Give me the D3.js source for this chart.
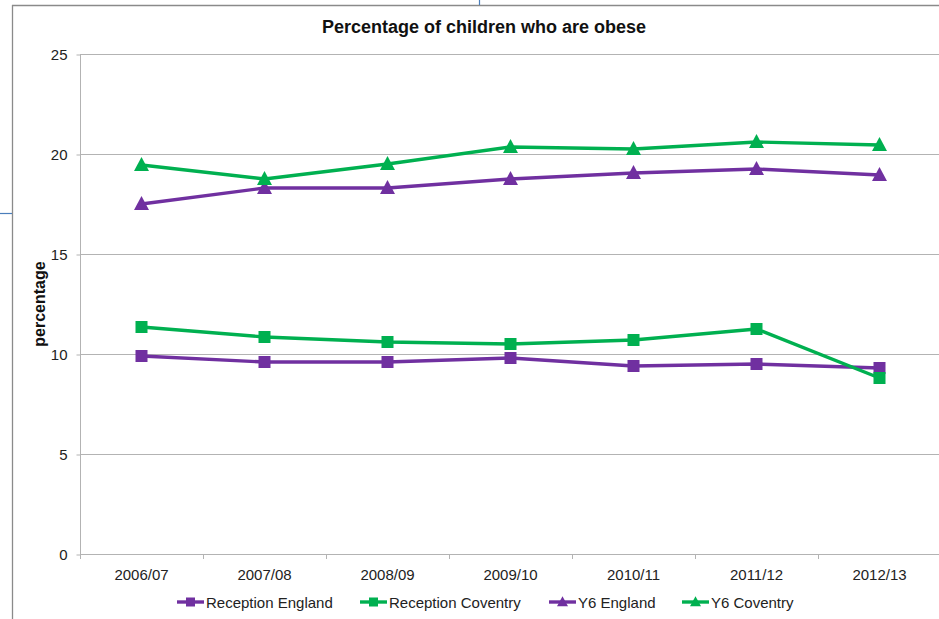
<!DOCTYPE html>
<html><head><meta charset="utf-8">
<script src="https://cdn.jsdelivr.net/npm/d3@7"></script>
<style>
body{margin:0;background:#fff;}
svg{display:block;font-family:"Liberation Sans",Arial,sans-serif;}
</style></head>
<body><svg id="chart" width="939" height="619"></svg>
<script>
const categories = ["2006/07","2007/08","2008/09","2009/10","2010/11","2011/12","2012/13"];
const receptionEngland = [9.9, 9.6, 9.6, 9.8, 9.4, 9.5, 9.3];
const receptionCoventry = [11.35, 10.85, 10.6, 10.5, 10.7, 11.25, 8.8];
const y6England = [17.5, 18.3, 18.3, 18.75, 19.05, 19.25, 18.95];
const y6Coventry = [19.45, 18.75, 19.5, 20.35, 20.25, 20.6, 20.45];
const yTicks = [0, 5, 10, 15, 20, 25];

const series = [
  {name:"Reception England", values:receptionEngland, color:"#7030A0", marker:"square"},
  {name:"Reception Coventry", values:receptionCoventry, color:"#00B050", marker:"square"},
  {name:"Y6 England", values:y6England, color:"#7030A0", marker:"triangle"},
  {name:"Y6 Coventry", values:y6Coventry, color:"#00B050", marker:"triangle"}
];

const svg = d3.select("#chart");
const mLeft = 80, mRight = 941, mTop = 54, mBottom = 554;

// outer frame
svg.append("line").attr("x1",12.5).attr("x2",12.5).attr("y1",5).attr("y2",619).attr("stroke","#8a8a8a").attr("stroke-width",1.3);
svg.append("line").attr("x1",12).attr("x2",939).attr("y1",5.5).attr("y2",5.5).attr("stroke","#8a8a8a").attr("stroke-width",1.3);
// stray blue connectors
svg.append("line").attr("x1",0).attr("x2",12).attr("y1",213.5).attr("y2",213.5).attr("stroke","#4a7ebb").attr("stroke-width",1.2);
svg.append("line").attr("x1",479.5).attr("x2",479.5).attr("y1",0).attr("y2",5).attr("stroke","#4a7ebb").attr("stroke-width",1.2);

const x = d3.scaleBand().domain(categories).range([mLeft, mRight]).paddingInner(0).paddingOuter(0);
const y = d3.scaleLinear().domain([0,25]).range([mBottom, mTop]);

// gridlines
svg.append("g").selectAll("line").data(yTicks.filter(d=>d>0)).join("line")
  .attr("x1",mLeft).attr("x2",939).attr("y1",d=>Math.round(y(d))+0.5).attr("y2",d=>Math.round(y(d))+0.5)
  .attr("stroke","#b3b3b3").attr("stroke-width",1);

// y axis
const yAxis = d3.axisLeft(y).tickValues(yTicks).tickSize(4).tickPadding(9);
const gy = svg.append("g").attr("transform",`translate(${mLeft+0.5},0.5)`).call(yAxis);
gy.select(".domain").attr("stroke","#b3b3b3").attr("d",`M0,${mTop}V${mBottom}`);
gy.selectAll(".tick line").attr("stroke","#b3b3b3");
gy.selectAll(".tick text").attr("font-size",15).attr("fill","#222").attr("font-family","Liberation Sans, Arial, sans-serif");

// x axis
const xAxis = d3.axisBottom(x).tickSize(0).tickPadding(15);
const gx = svg.append("g").attr("transform",`translate(0,${mBottom+0.5})`).call(xAxis);
gx.select(".domain").attr("stroke","#b3b3b3").attr("d",`M${mLeft},0H939`);
gx.selectAll(".tick text").attr("font-size",15).attr("fill","#222").attr("font-family","Liberation Sans, Arial, sans-serif");
// x tick marks at band boundaries
const boundaries = categories.map(c=>x(c)).concat([x(categories[categories.length-1])+x.bandwidth()]);
svg.append("g").selectAll("line").data(boundaries.filter(b=>b<939)).join("line")
  .attr("x1",d=>Math.round(d)+0.5).attr("x2",d=>Math.round(d)+0.5).attr("y1",mBottom).attr("y2",mBottom+5)
  .attr("stroke","#b3b3b3");

// title
svg.append("text").attr("x",484).attr("y",33).attr("text-anchor","middle")
  .attr("font-size",18).attr("font-weight","bold").attr("fill","#111").text("Percentage of children who are obese");

// y label
svg.append("text").attr("transform","translate(45,304) rotate(-90)").attr("text-anchor","middle")
  .attr("font-size",16).attr("font-weight","bold").attr("fill","#111").text("percentage");

const cx = c => x(c) + x.bandwidth()/2;
const line = d3.line().x((d,i)=>cx(categories[i])).y(d=>y(d));

function drawMarker(g, type, px, py, color, s) {
  if (type === "square") {
    g.append("rect").attr("x",px-s/2).attr("y",py-s/2).attr("width",s).attr("height",s).attr("fill",color);
  } else {
    const h = s*0.95;
    g.append("path").attr("d",`M${px},${py-h*0.6}L${px+s/2+0.5},${py+h*0.45}L${px-s/2-0.5},${py+h*0.45}Z`).attr("fill",color);
  }
}

series.forEach(s=>{
  const g = svg.append("g");
  g.append("path").datum(s.values).attr("d",line).attr("fill","none").attr("stroke",s.color)
    .attr("stroke-width",3.4).attr("stroke-linejoin","round");
  s.values.forEach((v,i)=>drawMarker(g, s.marker, cx(categories[i]), y(v), s.color, s.marker==="square"?12:14));
});

// legend
const legendX = [177, 360, 549, 682];
const legendY = 602;
series.forEach((s,i)=>{
  const g = svg.append("g");
  g.append("line").attr("x1",legendX[i]).attr("x2",legendX[i]+27).attr("y1",legendY).attr("y2",legendY)
    .attr("stroke",s.color).attr("stroke-width",3.4);
  drawMarker(g, s.marker, legendX[i]+13.5, legendY, s.color, s.marker==="square"?9:10);
  g.append("text").attr("x",legendX[i]+29).attr("y",legendY+5.5).attr("font-size",15).attr("fill","#222").text(s.name);
});
</script></body></html>
